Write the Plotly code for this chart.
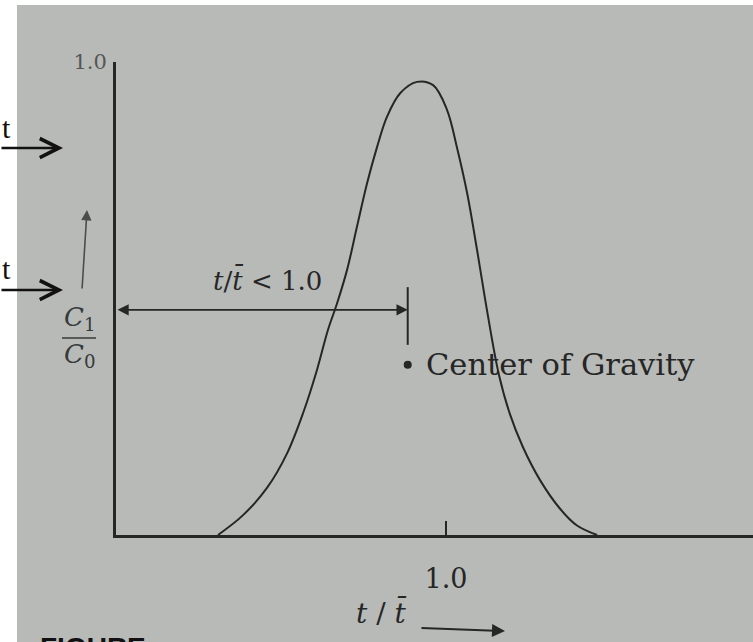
import plotly.graph_objects as go

# Tracer response curve: dimensionless time vs. outlet concentration ratio
t_ratio = [0.309, 0.385, 0.458, 0.518, 0.567, 0.609, 0.642, 0.670, 0.700,
           0.730, 0.761, 0.791, 0.821, 0.861, 0.912, 0.961, 1.003, 1.033,
           1.064, 1.094, 1.124, 1.160, 1.194, 1.233, 1.285, 1.345, 1.397,
           1.458]
c_ratio = [0.0, 0.042, 0.100, 0.172, 0.258, 0.349, 0.433, 0.490, 0.560,
           0.651, 0.744, 0.820, 0.884, 0.934, 0.958, 0.951, 0.899, 0.820,
           0.723, 0.603, 0.476, 0.34, 0.255, 0.186, 0.116, 0.056, 0.02,
           0.0]

# Centre of gravity of the response curve
cg_t = [0.884]
cg_c = [0.36]

# Marker bar for the centre-of-gravity position and the dimension line height
cg_bar_c = [0.402, 0.524]
dim_c = 0.476

x_ticks = [1.0]
x_tick_text = ["1.0"]
y_ticks = [1.0]
y_tick_text = ["1.0"]

W, H = 753, 642
ML, MR, MT, MB = 116, 0, 62, 107
PW, PH = W - ML - MR, H - MT - MB


def px(x):
    return (x - ML) / PW


def py(y):
    return (H - MB - y) / PH


INK = "#262626"
PAPER = "#b8bab7"
SERIF = "DejaVu Serif"


def note(x, y, text, size, color=INK, family=SERIF, xanchor="center",
         yanchor="middle", xref="paper", yref="paper"):
    return dict(x=x, y=y, xref=xref, yref=yref, text=text, showarrow=False,
                xanchor=xanchor, yanchor=yanchor,
                font=dict(family=family, size=size, color=color))


def arrow(x, y, ax, ay, head, size, width, color):
    return dict(x=px(x), y=py(y), xref="paper", yref="paper", ax=ax, ay=ay,
                text="", showarrow=True, arrowhead=head, arrowsize=size,
                arrowwidth=width, arrowcolor=color)


fig = go.Figure()

fig.add_trace(go.Scatter(
    x=t_ratio, y=c_ratio, mode="lines",
    line=dict(color=INK, width=2, shape="spline", smoothing=1.0),
    hoverinfo="skip", showlegend=False,
))

fig.add_trace(go.Scatter(
    x=[cg_t[0], cg_t[0]], y=cg_bar_c, mode="lines",
    line=dict(color=INK, width=2), hoverinfo="skip", showlegend=False,
))

fig.add_trace(go.Scatter(
    x=cg_t, y=cg_c, mode="markers",
    marker=dict(color=INK, size=8), hoverinfo="skip", showlegend=False,
))

annotations = [
    # dimension line from the axis to the centre of gravity
    dict(x=cg_t[0], y=dim_c, ax=0, ay=dim_c, xref="x", yref="y",
         axref="x", ayref="y", text="", showarrow=True,
         arrowside="end+start", arrowhead=2, startarrowhead=2,
         arrowsize=1.4, startarrowsize=1.4, arrowwidth=1.6, arrowcolor=INK),
    note(0.458, 0.54, "<i>t</i>/<i>t\u0304</i> &lt; 1.0", 26,
         xref="x", yref="y"),
    dict(x=cg_t[0], y=cg_c[0], xref="x", yref="y", xanchor="left",
         yanchor="middle", xshift=16, text="Center of Gravity",
         showarrow=False, font=dict(family=SERIF, size=30.5, color=INK)),
    # y-axis label as a fraction
    note(px(79), py(318), "<i>C</i><sub>1</sub>", 26, color="#363b3b"),
    note(px(79), py(356), "<i>C</i><sub>0</sub>", 26, color="#363b3b"),
    arrow(87, 210, -5, 80, 2, 1.3, 1.6, "#4a4d4d"),
    # x-axis label with arrow
    note(px(381), py(612), "<i>t</i> / <i>t\u0304</i>", 28),
    arrow(505, 631, -85, -3, 2, 1.3, 2, INK),
    # marginal notes
    note(px(0), py(127), "t", 30, color="#111111",
         family="Liberation Serif", xanchor="left"),
    arrow(63, 148, -63, 0, 5, 1.5, 2.5, "#111111"),
    note(px(0), py(268), "t", 30, color="#111111",
         family="Liberation Serif", xanchor="left"),
    arrow(63, 290, -63, 0, 5, 1.5, 2.5, "#111111"),
    note(px(38), py(630), "<b>FIGURE</b>", 28, color="#111111",
         family="Liberation Sans", xanchor="left", yanchor="top"),
]

shapes = [
    # fraction bar
    dict(type="line", xref="paper", yref="paper", x0=px(62), x1=px(96),
         y0=py(338), y1=py(338), line=dict(color="#363b3b", width=1.5)),
    # white margins around the photographed page
    dict(type="rect", xref="paper", yref="paper", x0=px(0), x1=px(17),
         y0=py(H), y1=py(0), fillcolor="white", line=dict(width=0),
         layer="below"),
    dict(type="rect", xref="paper", yref="paper", x0=px(0), x1=px(W),
         y0=py(5), y1=py(0), fillcolor="white", line=dict(width=0),
         layer="below"),
]

fig.update_layout(
    width=W, height=H,
    margin=dict(l=ML, r=MR, t=MT, b=MB, pad=0),
    paper_bgcolor=PAPER, plot_bgcolor="rgba(0,0,0,0)",
    showlegend=False,
    annotations=annotations, shapes=shapes,
    xaxis=dict(
        range=[0, PW / 330], showgrid=False, zeroline=False,
        showline=True, linecolor=INK, linewidth=3,
        tickvals=x_ticks, ticktext=x_tick_text, ticks="inside",
        ticklen=14, tickwidth=2, tickcolor=INK, ticklabelstandoff=18,
        tickfont=dict(family=SERIF, size=27, color=INK), fixedrange=True,
    ),
    yaxis=dict(
        range=[0, 1.0], showgrid=False, zeroline=False,
        showline=True, linecolor=INK, linewidth=3,
        tickvals=y_ticks, ticktext=y_tick_text, ticks="inside",
        ticklen=14, tickwidth=2, tickcolor=INK, ticklabelstandoff=2,
        tickfont=dict(family=SERIF, size=21, color="#555555"),
        fixedrange=True,
    ),
)

fig.write_html("out.html", config=dict(displayModeBar=False))
